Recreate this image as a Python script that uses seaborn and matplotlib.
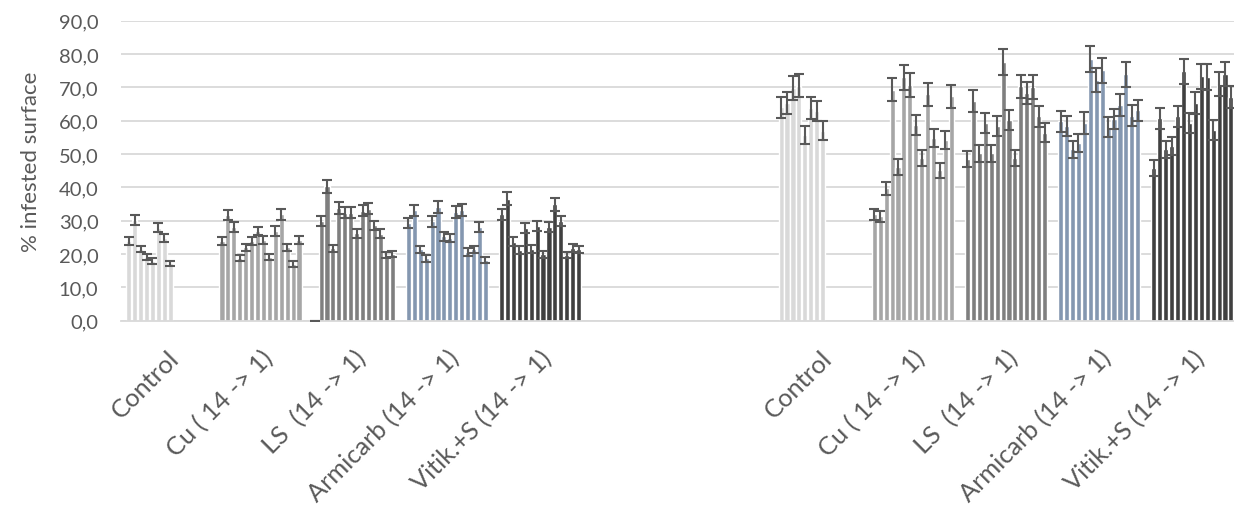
import matplotlib
matplotlib.use("Agg")
import matplotlib.pyplot as plt
import matplotlib.transforms as mtransforms
import numpy as np
import pandas as pd
import seaborn as sns

# Treatments and their bar colours
treatments = ["Control", "Cu ( 14 -> 1)", "LS  (14 -> 1)", "Armicarb (14 -> 1)", "Vitik.+S (14 -> 1)"]
colors = ["#d9d9d9", "#a6a6a6", "#7f7f7f", "#8497b0", "#404040"]

# First assessment: mean % infested surface and standard error per plant
control_1 = [24.0, 30.3, 21.6, 19.1, 17.9, 27.9, 24.8, 17.2]
control_1_err = [1.2, 1.5, 0.9, 0.9, 0.85, 1.4, 1.25, 0.85]
cu_1 = [24.0, 31.8, 28.1, 18.8, 22.0, 24.0, 27.0, 24.1, 19.0, 26.9, 31.9, 22.0, 17.1, 24.1]
cu_1_err = [1.2, 1.45, 1.4, 0.9, 1.0, 1.2, 1.25, 1.2, 0.9, 1.4, 1.6, 1.0, 0.95, 1.2]
ls_1 = [0.0, 30.0, 40.3, 21.7, 33.8, 32.4, 32.4, 26.2, 33.0, 33.6, 28.7, 26.1, 19.6, 20.0]
ls_1_err = [0.0, 1.5, 2.0, 1.15, 1.75, 1.6, 1.6, 1.35, 1.7, 1.6, 1.35, 1.4, 0.9, 1.0]
armicarb_1 = [29.3, 33.2, 21.4, 18.7, 29.8, 34.2, 25.3, 24.8, 32.6, 33.3, 20.6, 21.4, 28.0, 18.3]
armicarb_1_err = [1.5, 1.65, 1.15, 1.05, 1.55, 1.85, 1.25, 1.25, 1.75, 1.75, 1.1, 1.15, 1.5, 0.95]
vitik_1 = [31.9, 36.6, 23.7, 21.2, 27.8, 21.5, 28.4, 19.9, 28.0, 34.9, 30.0, 19.7, 21.8, 21.4]
vitik_1_err = [1.65, 1.9, 1.35, 1.1, 1.5, 1.25, 1.5, 1.1, 1.5, 1.85, 1.5, 1.0, 1.25, 1.15]

# Second assessment
control_2 = [64.0, 65.3, 69.8, 70.5, 55.8, 63.8, 63.0, 57.0]
control_2_err = [3.25, 3.25, 3.5, 3.5, 2.75, 3.25, 3.0, 2.8]
cu_2 = [31.9, 31.3, 39.8, 69.3, 46.1, 73.0, 70.7, 58.7, 48.8, 67.9, 54.8, 45.1, 54.3, 67.3]
cu_2_err = [1.6, 1.55, 1.95, 3.45, 2.4, 3.7, 3.5, 3.0, 2.5, 3.4, 2.75, 2.25, 2.75, 3.45]
ls_2 = [48.6, 66.0, 50.2, 59.3, 50.2, 58.5, 77.6, 60.3, 48.9, 70.3, 68.4, 70.1, 61.3, 56.4]
ls_2_err = [2.4, 3.25, 2.5, 3.0, 2.5, 3.0, 3.9, 2.95, 2.4, 3.5, 3.35, 3.6, 3.25, 2.85]
armicarb_2 = [59.9, 58.4, 51.4, 53.4, 59.3, 78.5, 72.2, 75.2, 58.1, 60.5, 64.7, 74.0, 61.5, 63.2]
armicarb_2_err = [3.15, 2.9, 2.65, 2.65, 3.25, 4.0, 3.5, 3.75, 2.9, 3.0, 3.35, 3.75, 3.2, 3.15]
vitik_2 = [45.9, 60.7, 51.4, 52.4, 61.3, 74.8, 59.3, 65.3, 73.3, 73.2, 57.3, 71.1, 73.9, 67.1]
vitik_2_err = [2.35, 3.15, 2.65, 2.65, 3.25, 3.75, 3.0, 3.25, 3.75, 3.85, 2.95, 3.6, 3.6, 3.4]

# Category axis: two blocks of treatments separated by two empty slots
category_labels = treatments + ["", ""] + treatments
y_ticks = list(range(0, 91, 10))

blocks = [
    (0, [control_1, cu_1, ls_1, armicarb_1, vitik_1],
        [control_1_err, cu_1_err, ls_1_err, armicarb_1_err, vitik_1_err]),
    (7, [control_2, cu_2, ls_2, armicarb_2, vitik_2],
        [control_2_err, cu_2_err, ls_2_err, armicarb_2_err, vitik_2_err]),
]

n_slots = 14
slot_step = 0.0636

rows = []
for start, vals_list, errs_list in blocks:
    for t, (vals, errs) in enumerate(zip(vals_list, errs_list)):
        cat = start + t
        for slot, (v, e) in enumerate(zip(vals, errs)):
            rows.append({
                "pos": cat + (slot - (n_slots - 1) / 2) * slot_step,
                "value": v,
                "err": e,
                "treatment": treatments[t],
            })
df = pd.DataFrame(rows)

sns.set_theme(style="white")
plt.rcParams["font.family"] = ["Lato", "DejaVu Sans"]
text_color = "#595959"
grid_color = "#d9d9d9"

W, H = 1234, 510
fig = plt.figure(figsize=(W / 100, H / 100), dpi=100)
ax = fig.add_axes([120.7 / W, (H - 321.7) / H, (1239 - 120.7) / W, 300 / H])

sns.barplot(
    data=df, x="pos", y="value", hue="treatment", hue_order=treatments,
    palette=colors, native_scale=True, dodge=False, width=0.86,
    saturation=1, errorbar=None, legend=False, ax=ax, zorder=2,
)
ax.errorbar(
    df["pos"], df["value"], yerr=df["err"], fmt="none",
    ecolor="#595959", elinewidth=1.5, capsize=3.6, capthick=1.5, zorder=3,
)

ax.set_xlim(-0.5, 11.5)
ax.set_ylim(0, 90)
ax.set_yticks(y_ticks)
ax.set_yticklabels([f"{v:.1f}".replace(".", ",") for v in y_ticks])
ax.yaxis.grid(True, color=grid_color, linewidth=1.3, zorder=0)
ax.set_axisbelow(True)
for side in ["top", "right", "left"]:
    ax.spines[side].set_visible(False)
ax.spines["bottom"].set_color(grid_color)
ax.spines["bottom"].set_linewidth(1.3)

ax.set_xticks(range(len(category_labels)))
ax.set_xticklabels(category_labels, rotation=45, ha="right", rotation_mode="anchor")
offset = mtransforms.ScaledTranslation(3 / 100, 0, fig.dpi_scale_trans)
for lbl in ax.get_xticklabels():
    lbl.set_transform(lbl.get_transform() + offset)

ax.tick_params(axis="x", length=0, pad=18, labelsize=18.3, labelcolor=text_color)
ax.tick_params(axis="y", length=0, pad=16, labelsize=14.5, labelcolor=text_color)

ax.set_xlabel("")
ax.set_ylabel("% infested surface", fontsize=16, color=text_color)
ax.yaxis.set_label_coords((41 - 120.7) / (1239 - 120.7), 0.533)

fig.savefig("out.png", dpi=100)
